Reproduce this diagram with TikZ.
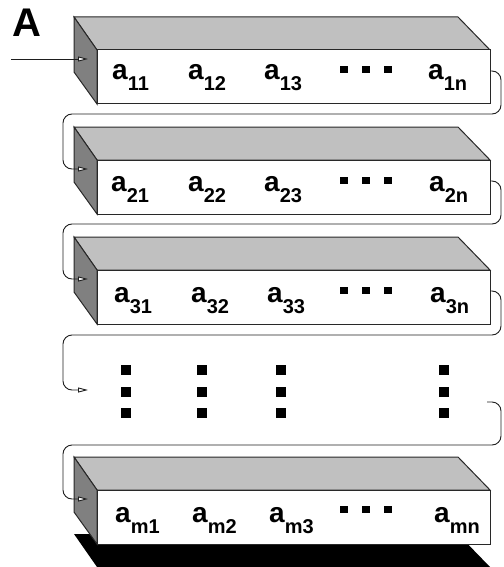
\documentclass[tikz,border=0pt]{standalone}
\usepackage{fontspec}
\setmainfont{Liberation Sans}
\usetikzlibrary{arrows.meta,calc}
\definecolor{topgray}{RGB}{192,192,192}
\definecolor{sidegray}{RGB}{128,128,128}
\definecolor{edgecol}{RGB}{40,40,40}
\definecolor{conncol}{RGB}{30,30,30}
\tikzset{
 face/.style={draw=edgecol, line width=1pt, line join=miter},
 conn/.style={draw=conncol, line width=0.9pt, rounded corners=9pt,
   -{Triangle[length=10pt,width=5pt,fill=white]}},
 lbl/.style={anchor=base west, inner sep=0pt, font=\fontsize{28}{30}\selectfont\bfseries},
 hdot/.style={fill=black, minimum width=8pt, minimum height=7pt, inner sep=0pt},
 vdot/.style={fill=black, minimum size=10pt, inner sep=0pt},
}
\newcommand\mysub[1]{\raisebox{-11pt}{\fontsize{20}{20}\selectfont #1}}
\newcommand\mybox[1]{%
 \pgfmathsetmacro\tf{#1+33}\pgfmathsetmacro\tb{#1+87}\pgfmathsetmacro\tl{#1+55}%
 \filldraw[face,fill=topgray] (74,#1) -- (458,#1) -- (490,\tf) -- (97,\tf) -- cycle;
 \filldraw[face,fill=sidegray] (74,#1) -- (97,\tf) -- (97,\tb) -- (74,\tl) -- cycle;
 \filldraw[face,fill=white] (97,\tf) rectangle (490,\tb);
}
\begin{document}
\begin{tikzpicture}[x=1pt,y=-1pt]
\useasboundingbox (0,0) rectangle (503,567);
% shadow of last block
\fill[black] (74,534) -- (458,534) -- (490,567) -- (97,567) -- cycle;
% blocks
\mybox{17}
\mybox{127}
\mybox{237}
\mybox{457}
% title
\node[anchor=base west, inner sep=0pt, font=\fontsize{40}{40}\selectfont\bfseries] (lblA) at (12,37) {A};
% labels row 1
\node[lbl] (a11) at (112,80) {a\mysub{11}};
\node[lbl] (a12) at (188,80) {a\mysub{12}};
\node[lbl] (a13) at (264,80) {a\mysub{13}};
\node[lbl] (a1n) at (428,80) {a\mysub{1n}};
% row 2
\node[lbl] (a21) at (111,191) {a\mysub{21}};
\node[lbl] (a22) at (188,191) {a\mysub{22}};
\node[lbl] (a23) at (264,191) {a\mysub{23}};
\node[lbl] (a2n) at (429,191) {a\mysub{2n}};
% row 3
\node[lbl] (a31) at (114,302) {a\mysub{31}};
\node[lbl] (a32) at (191,302) {a\mysub{32}};
\node[lbl] (a33) at (267,302) {a\mysub{33}};
\node[lbl] (a3n) at (430,302) {a\mysub{3n}};
% row m
\node[lbl] (am1) at (115,522) {a\mysub{m1}};
\node[lbl] (am2) at (192,522) {a\mysub{m2}};
\node[lbl] (am3) at (269,522) {a\mysub{m3}};
\node[lbl] (amn) at (434,522) {a\mysub{mn}};
% horizontal ellipsis dots
\foreach \r/\y in {1/70,2/180,3/290,m/509}{
  \node[hdot] (h\r a) at (344,\y) {};
  \node[hdot] (h\r b) at (366,\y) {};
  \node[hdot] (h\r c) at (388,\y) {};
}
% vertical ellipsis dots
\foreach \c/\x in {1/126,2/202,3/281,4/444}{
  \node[vdot] (v\c a) at (\x,370) {};
  \node[vdot] (v\c b) at (\x,392) {};
  \node[vdot] (v\c c) at (\x,413) {};
}
% connector end points
\coordinate (in0) at (11,59);
\coordinate (e1) at (88,59);
\coordinate (e2) at (88,169);
\coordinate (e3) at (88,279);
\coordinate (ed) at (88,390);
\coordinate (em) at (88,499);
\coordinate (s1) at (490,71);
\coordinate (s2) at (490,181);
\coordinate (s3) at (490,291);
\coordinate (sd) at (487,402);
% connectors
\draw[conn] (in0) -- (e1);
\draw[conn] (s1) -- ++(11,0) |- (63,114) |- (e2);
\draw[conn] (s2) -- ++(11,0) |- (63,224) |- (e3);
\draw[conn] (s3) -- ++(11,0) |- (63,335) |- (ed);
\draw[conn] (sd) -- ++(14,0) |- (63,445) |- (em);
\end{tikzpicture}
\end{document}
